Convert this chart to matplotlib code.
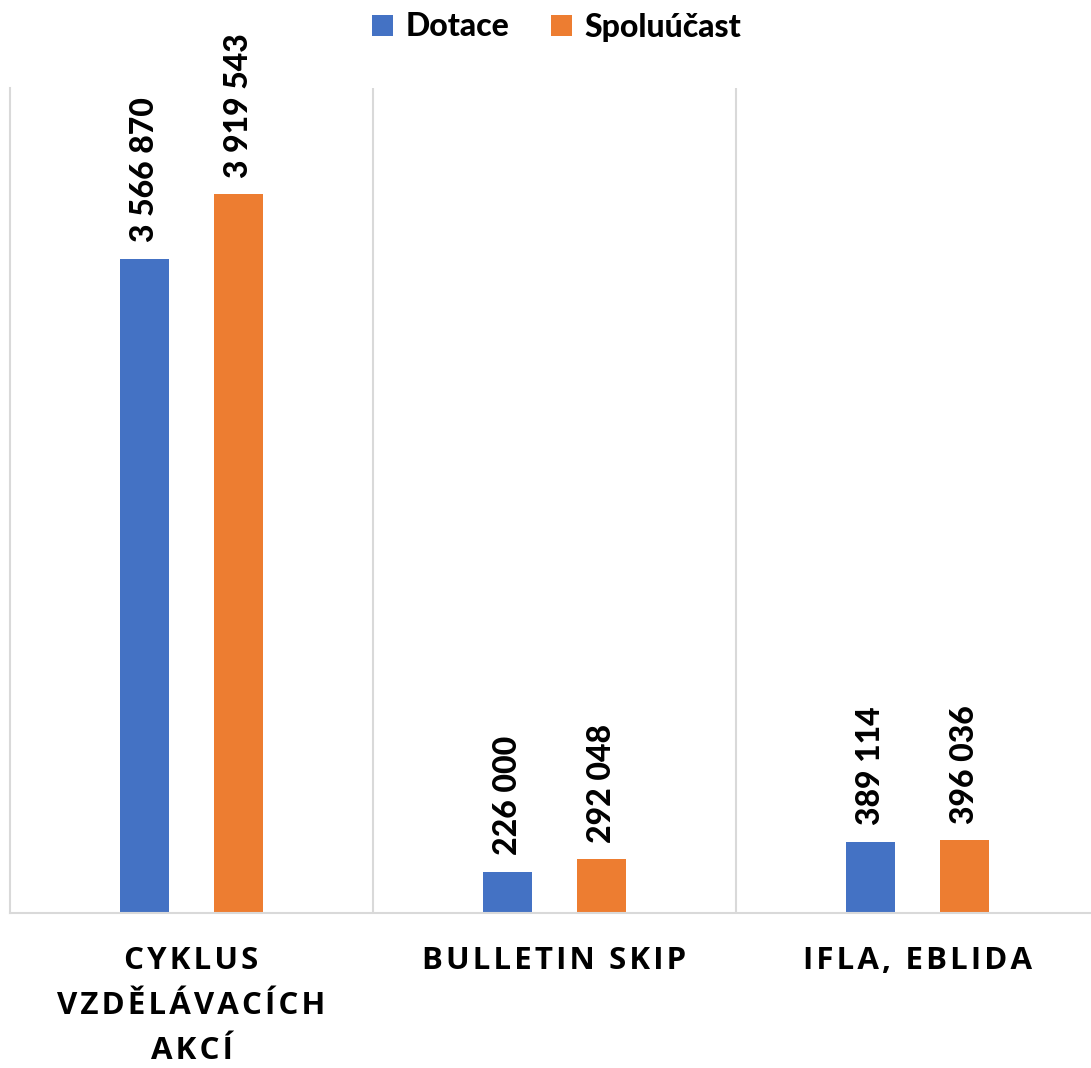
import numpy as np
import matplotlib
matplotlib.use("Agg")
import matplotlib.pyplot as plt

kategorie = ["CYKLUS\nVZDĚLÁVACÍCH\nAKCÍ", "BULLETIN SKIP", "IFLA, EBLIDA"]
dotace = [3566870, 226000, 389114]
spoluucast = [3919543, 292048, 396036]
serie = ["Dotace", "Spoluúčast"]

def fmt(v):
    return f"{v:,}".replace(",", " ")

def proloz(t):
    # Excel uses letter spacing on the category labels, approximate with hair spaces
    return "\n".join("\u200a".join(r) for r in t.split("\n"))

W, H = 1091, 1068
fig = plt.figure(figsize=(W / 100, H / 100), dpi=100)
ax = fig.add_axes([10 / W, (H - 913) / H, 1089 / W, 825 / H])

x = np.arange(len(kategorie))
sirka = 0.135
posun = 0.13
b1 = ax.bar(x - posun, dotace, sirka, color="#4472C4", label=serie[0])
b2 = ax.bar(x + posun, spoluucast, sirka, color="#ED7D31", label=serie[1])

for bars, vals in [(b1, dotace), (b2, spoluucast)]:
    for b, v in zip(bars, vals):
        ax.annotate(fmt(v), (b.get_x() + b.get_width() / 2, v),
                    xytext=(0, 12), textcoords="offset points",
                    rotation=90, ha="center", va="bottom",
                    fontsize=23, fontweight=900, family="Lato",
                    annotation_clip=False)

ax.set_xlim(-0.5, 2.5)
ax.set_ylim(0, 4.5e6)
for s in [0.5, 1.5]:
    ax.axvline(s, color="#D9D9D9", lw=1.5, zorder=0)
for sp in ["top", "right"]:
    ax.spines[sp].set_visible(False)
ax.spines["left"].set_color("#D9D9D9")
ax.spines["left"].set_linewidth(1.5)
ax.spines["bottom"].set_color("#D9D9D9")
ax.spines["bottom"].set_linewidth(1.5)
ax.set_yticks([])
ax.set_xticks(x)
ax.set_xticklabels([proloz(k) for k in kategorie], fontsize=22.5, fontweight="bold",
                   family=["Open Sans", "DejaVu Sans"], linespacing=1.65, va="top")
ax.tick_params(axis="x", length=0, pad=24)

leg = fig.legend(loc="center", bbox_to_anchor=(557 / W, 1 - 27 / H), ncol=2,
                 frameon=False, handlelength=0.65, handleheight=0.65,
                 handletextpad=0.4, columnspacing=1.3,
                 prop={"family": "Lato", "weight": 900, "size": 23})

fig.savefig("out.png", dpi=100)
